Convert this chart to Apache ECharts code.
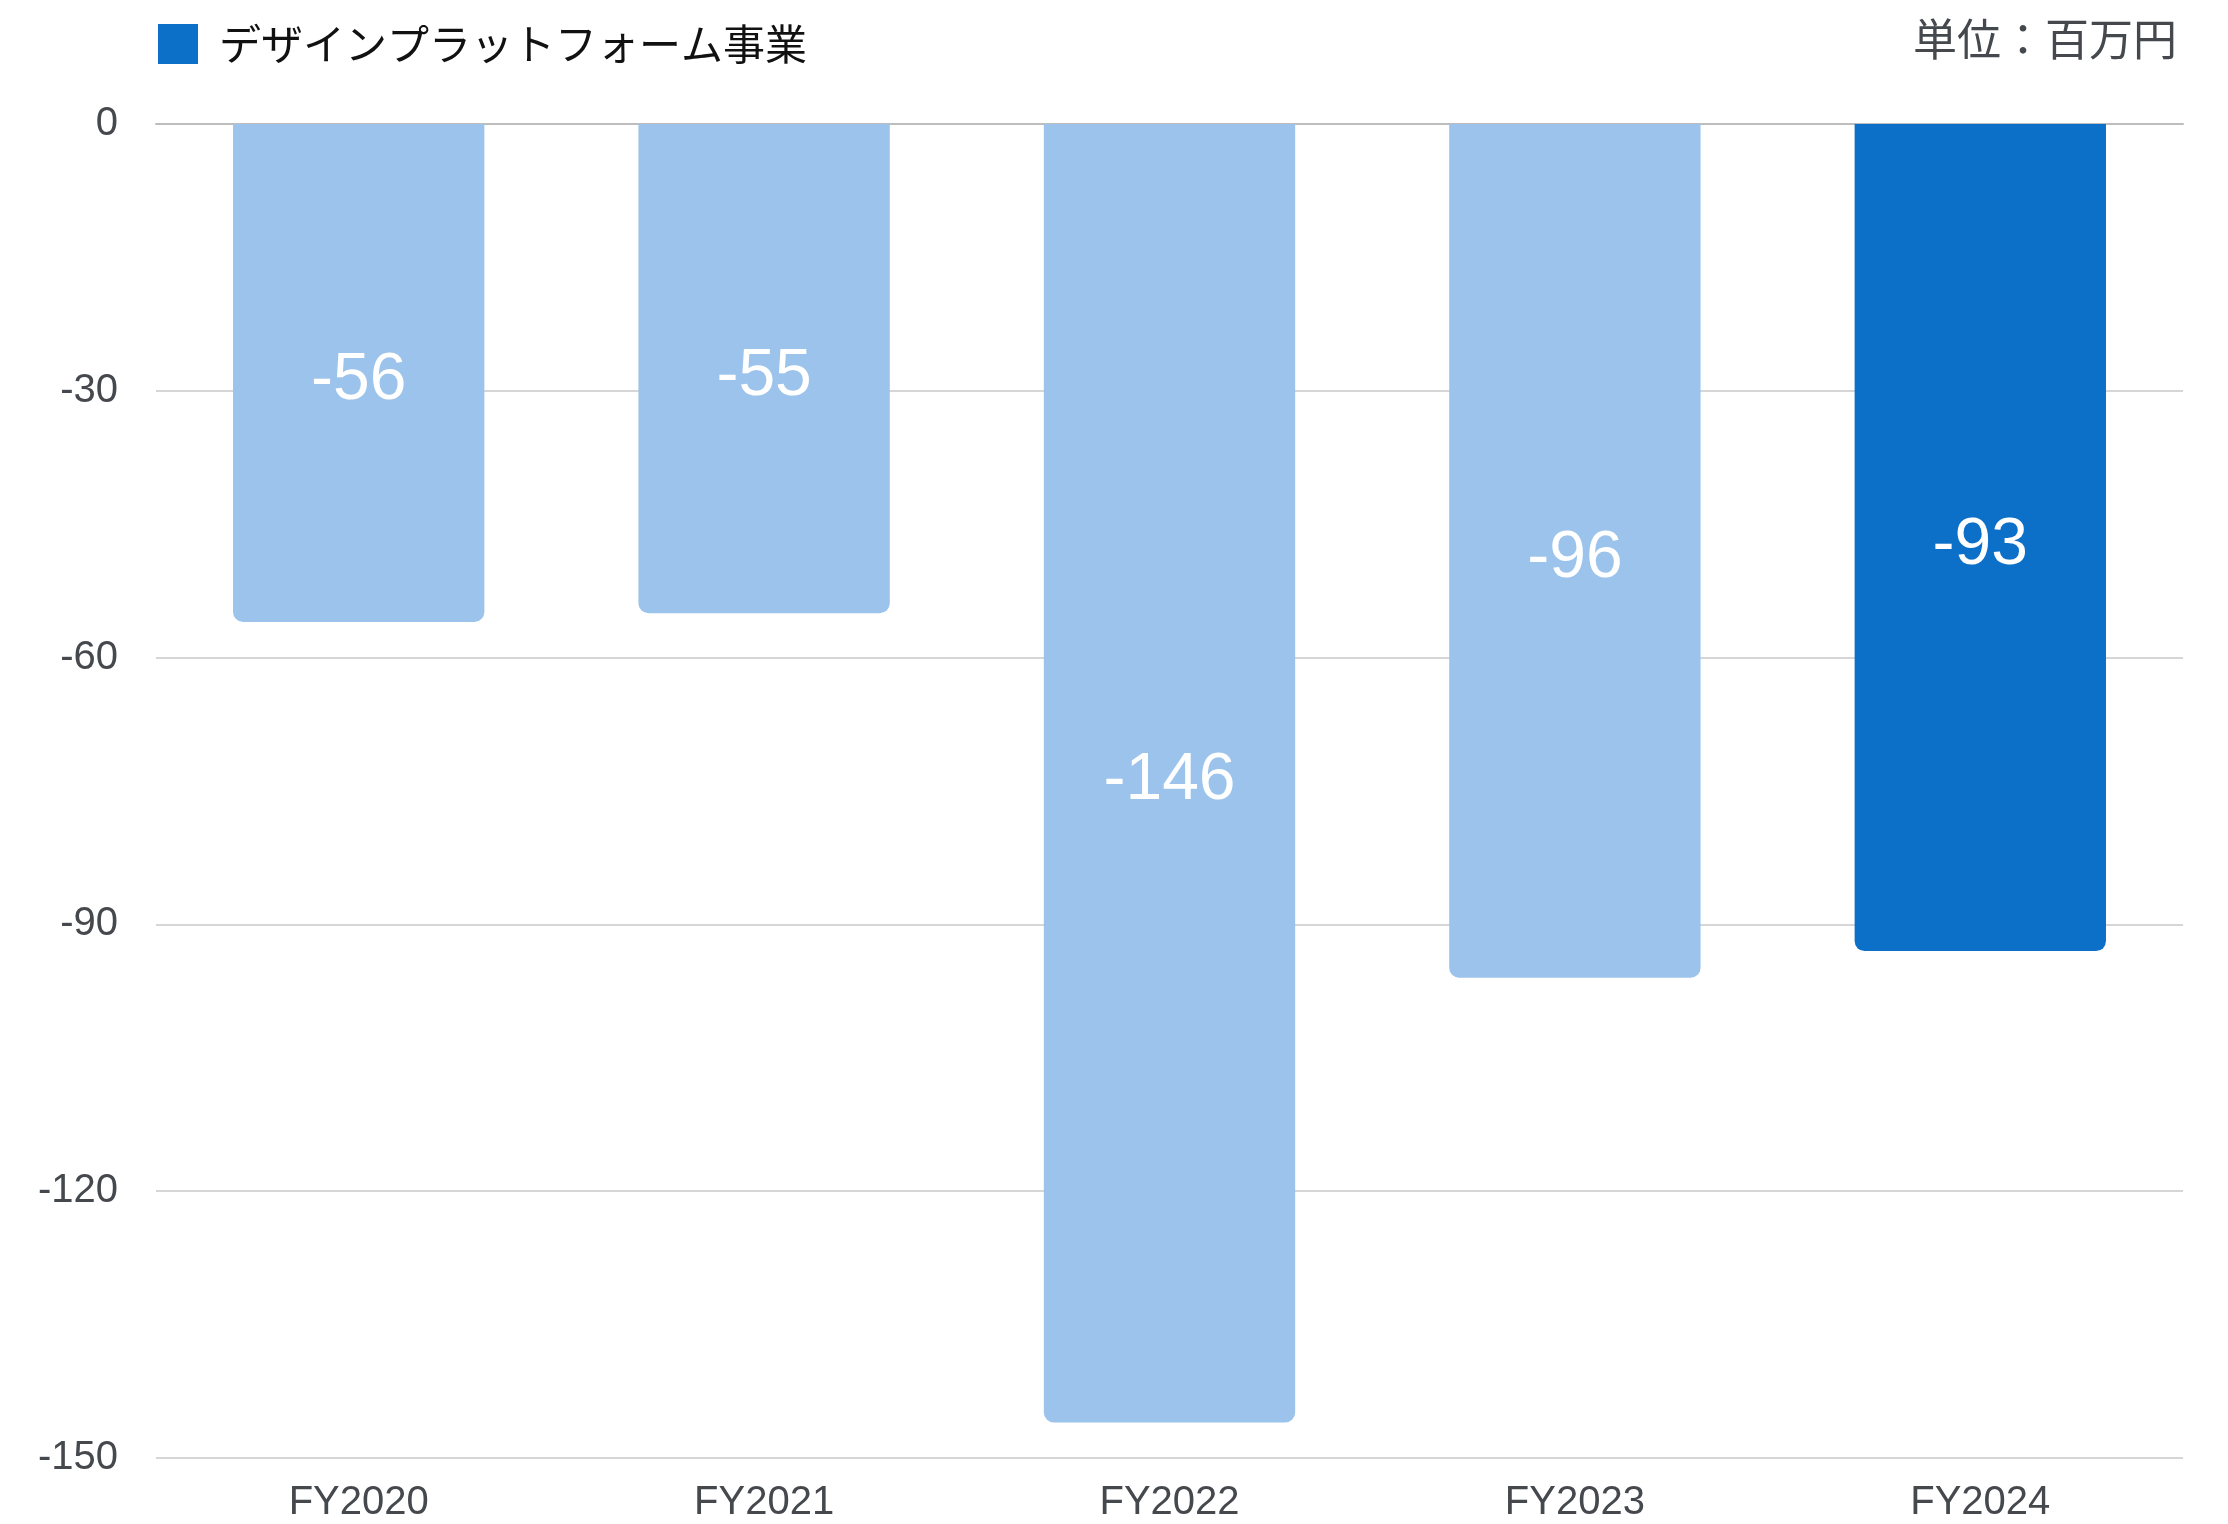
<!DOCTYPE html>
<html>
<head>
<meta charset="utf-8">
<script src="https://cdn.jsdelivr.net/npm/echarts@6/dist/echarts.min.js"></script>
<style>
  html, body { margin: 0; padding: 0; background: #fff; }
  #main { width: 2228px; height: 1524px; }
</style>
</head>
<body>
<div id="main"></div>
<script>
var categories = ['FY2020', 'FY2021', 'FY2022', 'FY2023', 'FY2024'];
var values = [-56, -55, -146, -96, -93];
var seriesName = 'デザインプラットフォーム事業';
var unitText = '単位：百万円';
var lightColor = '#9bc3eb';
var darkColor = '#0c6fc8';

var fontLatin = '"Liberation Sans", "Noto Sans CJK JP", sans-serif';
var fontJa = '"Noto Sans CJK JP", sans-serif';

var myChart = echarts.init(document.getElementById('main'));

// 最後の年だけ濃い色
var barData = values.map(function (v, i) {
    return {
        value: v,
        itemStyle: { color: i === values.length - 1 ? darkColor : lightColor }
    };
});

var option = {
    animation: false,
    backgroundColor: '#ffffff',
    title: {
        text: unitText,
        right: 46,
        top: 12,
        textStyle: { fontFamily: fontJa, fontSize: 44, fontWeight: 'normal', color: '#45494d' }
    },
    legend: {
        left: 153,
        top: 18,
        itemWidth: 40,
        itemHeight: 40,
        icon: 'rect',
        data: [{ name: seriesName, itemStyle: { color: darkColor } }],
        textStyle: { fontFamily: fontJa, fontSize: 42, color: '#111', padding: [0, 0, 0, 16] }
    },
    grid: {
        left: 156,
        right: 45,
        top: 124,
        bottom: 66,
        containLabel: false
    },
    xAxis: {
        type: 'category',
        data: categories,
        axisLine: { show: true, lineStyle: { color: '#bdbdbd', width: 2 } },
        axisTick: { show: false },
        axisLabel: { fontFamily: fontLatin, fontSize: 40, color: '#45494d', margin: 25 }
    },
    yAxis: {
        type: 'value',
        min: -150,
        max: 0,
        interval: 30,
        axisLine: { show: false },
        axisTick: { show: false },
        axisLabel: { fontFamily: fontLatin, fontSize: 40, color: '#45494d', margin: 38 },
        splitLine: { lineStyle: { color: '#c8c8c8', width: 1.5 } }
    },
    series: [{
        name: seriesName,
        type: 'bar',
        data: barData,
        barWidth: '62%',
        itemStyle: { borderRadius: [0, 0, 10, 10] },
        label: {
            show: true,
            position: 'inside',
            offset: [0, 8],
            fontFamily: fontLatin,
            fontSize: 66,
            color: '#ffffff'
        }
    }]
};

myChart.setOption(option, true);
</script>
</body>
</html>
